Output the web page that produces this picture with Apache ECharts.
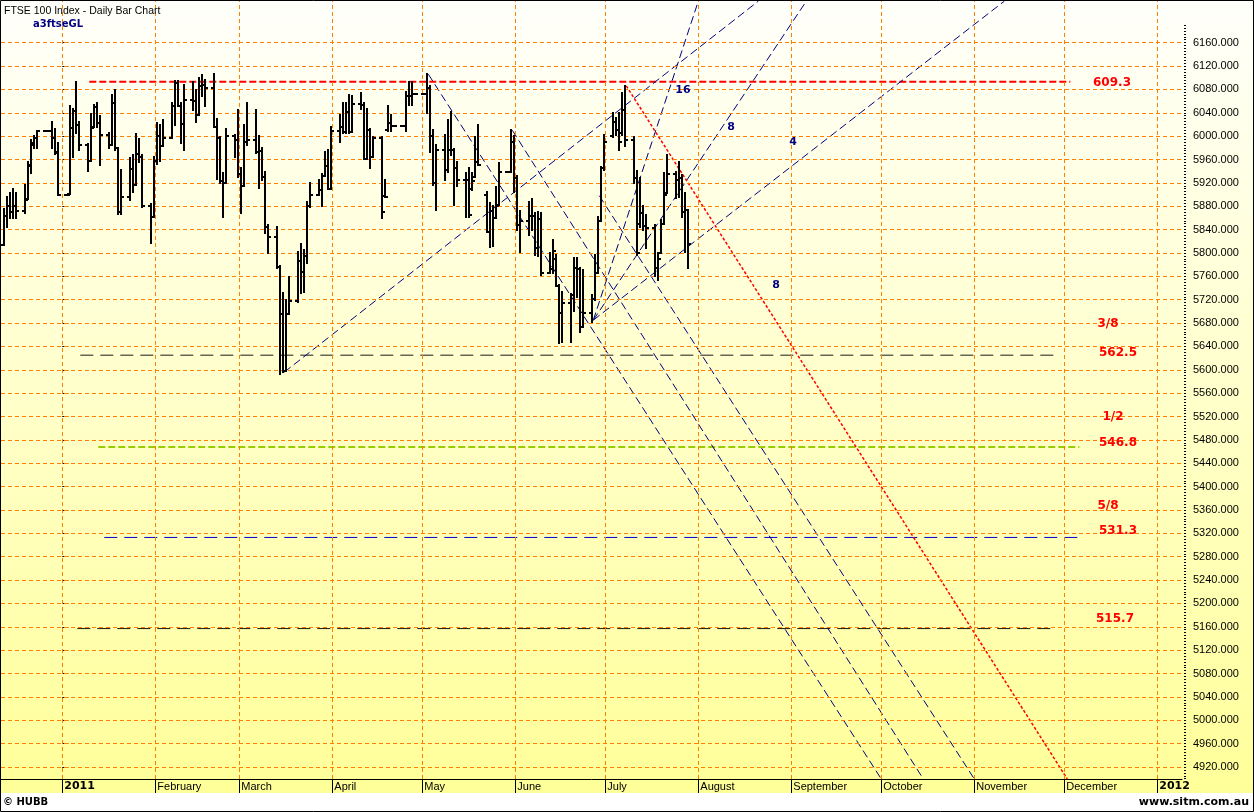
<!DOCTYPE html>
<html><head><meta charset="utf-8">
<script src="https://cdn.jsdelivr.net/npm/echarts@6/dist/echarts.min.js"></script>
<style>html,body{margin:0;padding:0;background:#fff}#c{width:1254px;height:812px}</style>
</head><body><div id="c"></div>
<script>
// ---- data: daily OHLC (weekday holidays drawn flat at previous close) ----
const dates = [
 '2010-12-13','2010-12-14','2010-12-15','2010-12-16','2010-12-17','2010-12-20','2010-12-21','2010-12-22','2010-12-23','2010-12-24','2010-12-27','2010-12-28','2010-12-29','2010-12-30','2010-12-31',
 '2011-01-03','2011-01-04','2011-01-05','2011-01-06','2011-01-07','2011-01-10','2011-01-11','2011-01-12','2011-01-13','2011-01-14','2011-01-17','2011-01-18','2011-01-19','2011-01-20','2011-01-21','2011-01-24','2011-01-25','2011-01-26','2011-01-27','2011-01-28','2011-01-31',
 '2011-02-01','2011-02-02','2011-02-03','2011-02-04','2011-02-07','2011-02-08','2011-02-09','2011-02-10','2011-02-11','2011-02-14','2011-02-15','2011-02-16','2011-02-17','2011-02-18','2011-02-21','2011-02-22','2011-02-23','2011-02-24','2011-02-25','2011-02-28',
 '2011-03-01','2011-03-02','2011-03-03','2011-03-04','2011-03-07','2011-03-08','2011-03-09','2011-03-10','2011-03-11','2011-03-14','2011-03-15','2011-03-16','2011-03-17','2011-03-18','2011-03-21','2011-03-22','2011-03-23','2011-03-24','2011-03-25','2011-03-28','2011-03-29','2011-03-30','2011-03-31',
 '2011-04-01','2011-04-04','2011-04-05','2011-04-06','2011-04-07','2011-04-08','2011-04-11','2011-04-12','2011-04-13','2011-04-14','2011-04-15','2011-04-18','2011-04-19','2011-04-20','2011-04-21','2011-04-22','2011-04-25','2011-04-26','2011-04-27','2011-04-28','2011-04-29',
 '2011-05-02','2011-05-03','2011-05-04','2011-05-05','2011-05-06','2011-05-09','2011-05-10','2011-05-11','2011-05-12','2011-05-13','2011-05-16','2011-05-17','2011-05-18','2011-05-19','2011-05-20','2011-05-23','2011-05-24','2011-05-25','2011-05-26','2011-05-27','2011-05-30','2011-05-31',
 '2011-06-01','2011-06-02','2011-06-03','2011-06-06','2011-06-07','2011-06-08','2011-06-09','2011-06-10','2011-06-13','2011-06-14','2011-06-15','2011-06-16','2011-06-17','2011-06-20','2011-06-21','2011-06-22','2011-06-23','2011-06-24','2011-06-27','2011-06-28','2011-06-29','2011-06-30',
 '2011-07-01','2011-07-04','2011-07-05','2011-07-06','2011-07-07','2011-07-08','2011-07-11','2011-07-12','2011-07-13','2011-07-14','2011-07-15','2011-07-18','2011-07-19','2011-07-20','2011-07-21','2011-07-22','2011-07-25','2011-07-26','2011-07-27','2011-07-28','2011-07-29'
];
const opens = [
 5814,5864,5880,5870,5880,5872,5893,5950,5988,5996,6008,6008,6008,5996,5971,
 5900,5901,6014,6043,6019,5984,5957,6016,6050,6023,6002,5985,6057,5979,5870,5896,5943,5917,5969,5965,5881,
 5862,5957,6000,5983,5997,6051,6091,6052,6020,6062,6060,6037,6085,6087,6082,6015,5996,5923,5919,6001,
 5994,5936,5914,5990,5993,5973,5975,5930,5845,5828,5776,5695,5598,5696,5718,5786,5767,5795,5880,5900,5908,5932,5948,
 5909,6009,6016,6007,6042,6007,6055,6053,5961,6010,5964,5997,5898,6010,6022,6018,6018,6018,6069,6069,6072,
 6072,6072,6082,6000,5919,5976,5942,5976,5976,5945,5925,5925,5910,5930,5955,5900,5836,5871,5860,5882,5938,5938,
 5990,5928,5847,5855,5863,5864,5808,5858,5765,5773,5790,5743,5698,5714,5728,5775,5772,5674,5698,5722,5766,5855,
 5945,6000,6024,6010,6005,6044,5993,5929,5850,5868,5846,5843,5775,5800,5850,5903,5935,5925,5929,5870,5873
];
const highs = [
 5875,5895,5902,5909,5903,5916,5955,5993,6000,6009,6008,6008,6024,6012,5988,
 5900,6051,6046,6092,6025,5986,6038,6053,6057,6034,6006,6070,6079,5979,5942,5962,5968,6004,5995,5968,5884,
 5965,6023,6019,6027,6056,6095,6095,6056,6087,6093,6079,6099,6105,6096,6107,6030,5998,5937,6013,6002,
 6044,5945,6019,6056,6045,6000,5980,5939,5848,5844,5778,5731,5719,5759,5802,5815,5805,5888,5920,5925,5936,5973,5976,
 6016,6036,6056,6057,6070,6069,6074,6057,6046,6013,5999,5999,5925,6051,6036,6018,6018,6075,6092,6093,6072,
 6072,6106,6085,6010,5985,6002,6028,6041,5978,5955,5937,5945,5937,5998,6019,5905,5885,5880,5913,5954,5938,6010,
 6000,5931,5871,5888,5892,5868,5870,5868,5800,5822,5796,5745,5733,5730,5791,5791,5774,5771,5728,5796,5862,5947,
 6002,6040,6031,6040,6074,6086,5998,5940,5928,5880,5865,5848,5800,5856,5937,5968,5939,5956,5933,5903,5874
];
const lows = [
 5814,5845,5860,5860,5860,5868,5892,5937,5979,5979,6008,6008,5979,5970,5900,
 5900,5901,5965,6006,5976,5941,5957,6016,6016,5951,5979,5985,5977,5866,5866,5891,5905,5917,5955,5878,5817,
 5862,5953,5957,5983,5997,6019,6051,5988,5976,6045,6025,6036,6068,6052,6016,5927,5919,5862,5919,5965,
 5930,5868,5914,5985,5971,5911,5925,5834,5800,5775,5593,5596,5598,5696,5716,5732,5734,5782,5879,5900,5880,5932,5909,
 5909,5990,6006,6006,6006,6007,6046,5961,5961,5945,5964,5860,5896,6008,6009,6018,6018,6008,6053,6053,6072,
 6072,6040,5973,5916,5874,5925,5939,5968,5882,5915,5862,5862,5908,5930,5951,5836,5810,5812,5860,5882,5938,5938,
 5905,5840,5802,5830,5840,5797,5795,5762,5765,5765,5743,5646,5648,5648,5700,5725,5665,5673,5682,5719,5766,5855,
 5942,5999,6002,5976,6002,5983,5920,5796,5844,5840,5808,5760,5754,5800,5850,5903,5894,5896,5862,5802,5774
];
const closes = [
 5864,5880,5870,5880,5872,5890,5948,5985,5996,6008,6008,6008,5996,5972,5900,
 5900,6014,6043,6019,5985,5957,6014,6050,6023,6002,5985,6057,5980,5870,5896,5943,5917,5969,5965,5881,5862,
 5957,6000,5983,5997,6051,6091,6052,6020,6062,6060,6037,6085,6087,6082,6016,5996,5923,5919,6001,5994,
 5936,5914,5990,5993,5973,5975,5930,5845,5828,5776,5695,5598,5696,5718,5786,5767,5795,5880,5900,5908,5932,5948,5909,
 6009,6016,6007,6042,6007,6055,6053,5961,6010,5964,5997,5870,5896,6022,6018,6018,6018,6069,6069,6072,6072,
 6072,6082,6000,5919,5976,5942,5976,5976,5945,5925,5925,5865,5923,5955,5951,5836,5871,5860,5880,5938,5938,5990,
 5928,5847,5855,5863,5864,5808,5858,5765,5773,5804,5743,5698,5714,5728,5775,5772,5674,5698,5722,5766,5855,5945,
 5990,6024,6010,5990,6044,5993,5929,5800,5868,5846,5843,5775,5790,5850,5900,5935,5925,5929,5870,5873,5815
];

// ---- axes ----
const monthStarts = ['2011-01-01','2011-02-01','2011-03-01','2011-04-01','2011-05-01','2011-06-01','2011-07-01','2011-08-01','2011-09-01','2011-10-01','2011-11-01','2011-12-01','2012-01-01'];
const monthLabels = ['2011','February','March','April','May','June','July','August','September','October','November','December','2012'];
const yTickValues = [4920,4960,5000,5040,5080,5120,5160,5200,5240,5280,5320,5360,5400,5440,5480,5520,5560,5600,5640,5680,5720,5760,5800,5840,5880,5920,5960,6000,6040,6080,6120,6160];

// ---- drawn studies ----
const levelValues = [6093, 5625, 5468, 5313, 5157];
const levelStarts = ['2011-01-10','2011-01-07','2011-01-13','2011-01-15','2011-01-06'];
const levelEnds   = ['2011-12-03','2011-11-29','2011-12-06','2011-12-07','2011-11-28'];
const levelTexts  = ['609.3','562.5','546.8','531.3','515.7'];
const fractionTexts = ['3/8','1/2','5/8'];
// trend / fan lines: [startDate, startValue, endDate, endValue]
const fanLines = [
 ['2011-03-16',5596,'2011-08-21',6231],
 ['2011-06-27',5685,'2011-08-01',6231],
 ['2011-06-27',5685,'2011-09-06',6231],
 ['2011-06-27',5685,'2011-11-11',6231],
 ['2011-05-03',6106,'2011-10-01',4899.5],
 ['2011-05-31',6010,'2011-10-15',4899.5],
 ['2011-06-29',5898,'2011-11-01',4899.5]
];
const redTrend = ['2011-07-08',6086,'2011-12-02',4899.5];
const fanTexts = ['16','8','4','8'];

function dayIdx(s){
  const y=+s.slice(0,4), m=+s.slice(5,7)-1, d=+s.slice(8,10);
  return (Date.UTC(y,m,d)-Date.UTC(2011,0,1))/86400000;
}

const chart = echarts.init(document.getElementById('c'), null, {renderer:'canvas'});
const ohlc = dates.map((s,i)=>[dayIdx(s), opens[i], highs[i], lows[i], closes[i]]);
const monthDays = monthStarts.map(dayIdx);

const FONT = 'Liberation Sans, Arial, sans-serif';
const BOLD = 'DejaVu Sans, Verdana, sans-serif';

const series = [];
// grid lines
series.push({
  type:'line', data:[], silent:true, z:1, animation:false,
  markLine:{
    silent:true, symbol:['none','none'], animation:false, label:{show:false},
    lineStyle:{color:'#ff8000', width:1, type:[4,3]},
    data: yTickValues.map(v=>({yAxis:v})).concat(monthDays.map(d=>({xAxis:d})))
  }
});
// OHLC bars
series.push({
  type:'custom', z:5, animation:false, silent:true,
  data: ohlc,
  encode:{x:0, y:[1,2,3,4]},
  renderItem(params, api){
    const d=api.value(0);
    const ph=api.coord([d,api.value(2)]), pl=api.coord([d,api.value(3)]);
    const po=api.coord([d,api.value(1)]), pc=api.coord([d,api.value(4)]);
    const cx=Math.round(ph[0]);
    const st={stroke:'#000', lineWidth:2};
    const yo=Math.round(po[1]), yc=Math.round(pc[1]);
    return {type:'group', children:[
      {type:'line', shape:{x1:cx-1,y1:Math.round(ph[1])-1,x2:cx-1,y2:Math.round(pl[1])+1}, style:st},
      {type:'line', shape:{x1:cx-4,y1:yo,x2:cx,y2:yo}, style:st},
      {type:'line', shape:{x1:cx-2,y1:yc,x2:cx+2,y2:yc}, style:st}
    ]};
  }
});
// horizontal levels
const levelStyles = [
  {color:'#ff0000', width:2, type:[7,3]},
  {color:'#1a1a1a', width:1, type:[13,7]},
  {color:'#99cc00', width:2, type:[7,3]},
  {color:'#0000cc', width:1, type:[13,7]},
  {color:'#1a1a1a', width:1, type:[13,7]}
];
levelValues.forEach((v,i)=>{
  series.push({type:'line', z:4, silent:true, animation:false, symbol:'none',
    data:[[dayIdx(levelStarts[i]),v],[dayIdx(levelEnds[i]),v]], lineStyle:levelStyles[i]});
});
fanLines.forEach(l=>{
  series.push({type:'line', z:4, silent:true, animation:false, symbol:'none', clip:true,
    data:[[dayIdx(l[0]),l[1]],[dayIdx(l[2]),l[3]]], lineStyle:{color:'#00007a', width:1, type:[8,4]}});
});
series.push({type:'line', z:4, silent:true, animation:false, symbol:'none', clip:true,
  data:[[dayIdx(redTrend[0]),redTrend[1]],[dayIdx(redTrend[2]),redTrend[3]]], lineStyle:{color:'#ff0000', width:1.5, type:[3,2]}});
// minor y ticks helper values (every 5 points)
const minorTicks=[]; for(let v=4900; v<=6190; v+=5) minorTicks.push(v);

const graphics = [
  {type:'rect', z:-10, shape:{x:0,y:0,width:1254,height:793},
   style:{fill:new echarts.graphic.LinearGradient(0,0,0,1,[{offset:0,color:'#fffffb'},{offset:1,color:'#ffff99'}])}},
  {type:'rect', z:-10, shape:{x:0,y:793,width:1254,height:19}, style:{fill:'#fff'}},
  {type:'rect', z:100, shape:{x:0.5,y:0.5,width:1253,height:811}, style:{fill:null, stroke:'#000', lineWidth:1}},
  {type:'text', z:100, x:4, y:6, style:{text:'FTSE 100 Index - Daily Bar Chart', font:'10.5px '+FONT, fill:'#000'}},
  {type:'text', z:100, x:33, y:19, style:{text:'a3ftseGL', font:'bold 10px '+BOLD, fill:'#000080'}},
  {type:'text', z:100, x:3, y:797, style:{text:'© HUBB', font:'bold 10px '+BOLD, fill:'#000'}},
  {type:'text', z:100, x:1249, y:797, style:{text:'www.sitm.com.au', font:'bold 11px '+BOLD, fill:'#000', align:'right'}}
];
const fanTextPos = [[683,90],[731,127],[793,142],[776,285]];
fanTexts.forEach((t,i)=>graphics.push({type:'text', z:100, x:fanTextPos[i][0], y:fanTextPos[i][1],
  style:{text:t, font:'bold 11px '+BOLD, fill:'#000080', align:'center', verticalAlign:'middle'}}));
const levelTextPos = [[1112,83],[1118,353],[1118,443],[1118,531],[1115,619]];
levelTexts.forEach((t,i)=>graphics.push({type:'text', z:100, x:levelTextPos[i][0], y:levelTextPos[i][1],
  style:{text:t, font:'bold 12px '+BOLD, fill:'#ff0000', align:'center', verticalAlign:'middle'}}));
const fracPos = [[1108,324],[1113,417],[1108,506]];
fractionTexts.forEach((t,i)=>graphics.push({type:'text', z:100, x:fracPos[i][0], y:fracPos[i][1],
  style:{text:t, font:'bold 12px '+BOLD, fill:'#ff0000', align:'center', verticalAlign:'middle'}}));

chart.setOption({
  animation:false,
  backgroundColor:'transparent',
  grid:{left:1, right:72, top:1, bottom:33, containLabel:false},
  xAxis:{
    type:'value', min:-20.433, max:373.233,
    axisLine:{show:true, lineStyle:{color:'#000', width:1}},
    axisTick:{show:true, length:14, lineStyle:{color:'#000'}, customValues:monthDays},
    axisLabel:{show:true, customValues:monthDays, margin:1, align:'left', padding:[0,0,0,2],
      fontFamily:FONT, fontSize:11, color:'#000', lineHeight:13,
      formatter:(v)=>{const i=monthDays.indexOf(Math.round(v)); if(i<0) return ''; const t=monthLabels[i]; return /^20/.test(t)?'{b|'+t+'}':t;},
      rich:{b:{fontFamily:BOLD, fontWeight:'bold', fontSize:11, color:'#000', lineHeight:13}}},
    splitLine:{show:false}
  },
  yAxis:[{
    type:'value', position:'right', min:4899.5, max:6231.3,
    axisLine:{show:false},
    axisTick:{show:true, length:6, lineStyle:{color:'#000'}, customValues:yTickValues},
    axisLabel:{show:true, customValues:yTickValues, margin:11, fontFamily:FONT, fontSize:11, color:'#000',
      formatter:(v)=>v.toFixed(3)},
    splitLine:{show:false}
  },{
    type:'value', position:'right', min:4899.5, max:6231.3, offset:2,
    axisLine:{show:false},
    axisTick:{show:true, length:2, lineStyle:{color:'#000'}, customValues:minorTicks},
    axisLabel:{show:false}, splitLine:{show:false}
  }],
  graphic: graphics,
  series: series
});
</script></body></html>
